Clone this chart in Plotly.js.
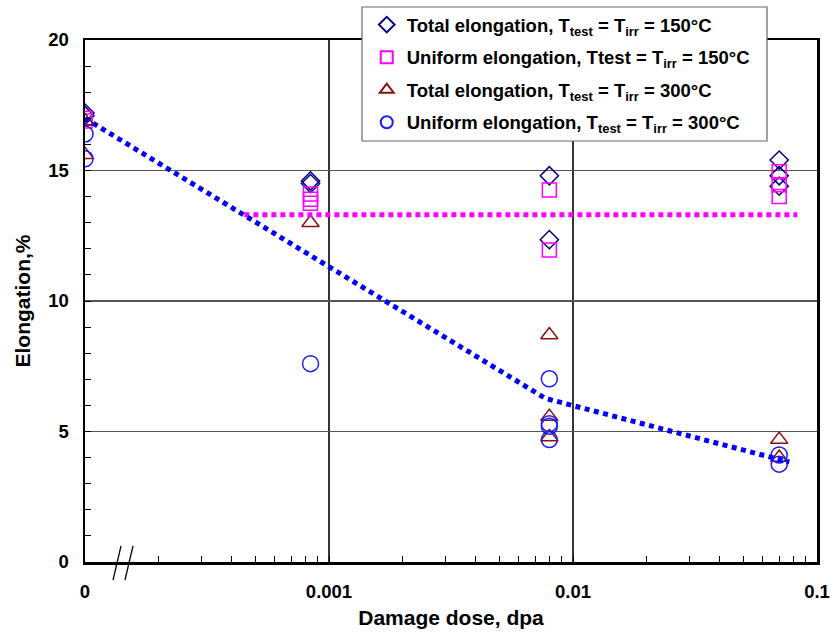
<!DOCTYPE html>
<html>
<head>
<meta charset="utf-8">
<script src="https://cdn.plot.ly/plotly-3.0.1.min.js"></script>
<style>html,body{margin:0;padding:0;background:#fff;}</style>
</head>
<body>
<div id="chart" style="width:834px;height:634px;"></div>
<script>
// Position used for the "0" dose (axis break) on the log scale
const ZERO_POS = 1e-4;

// Tick labels
const xTickVals = [ZERO_POS, 0.001, 0.01, 0.1];
const xTickText = ['0', '0.001', '0.01', '0.1'];
const yTickVals = [0, 5, 10, 15, 20];

// Total elongation, Ttest = Tirr = 150°C
const total150X = [ZERO_POS, ZERO_POS, 0.00084, 0.00084, 0.008, 0.008, 0.07, 0.07, 0.07];
const total150Y = [17.2, 17.1, 14.6, 14.5, 14.8, 12.35, 15.4, 14.8, 14.4];

// Uniform elongation, Ttest = Tirr = 150°C
const unif150X = [ZERO_POS, ZERO_POS, 0.00084, 0.00084, 0.00084, 0.008, 0.008, 0.07, 0.07, 0.07];
const unif150Y = [17.0, 16.9, 14.1, 13.9, 13.75, 14.25, 11.95, 14.95, 14.45, 14.0];

// Total elongation, Ttest = Tirr = 300°C
const total300X = [ZERO_POS, ZERO_POS, 0.00084, 0.008, 0.008, 0.008, 0.07, 0.07];
const total300Y = [16.9, 15.6, 13.0, 8.7, 5.57, 4.79, 4.69, 4.0];

// Uniform elongation, Ttest = Tirr = 300°C
const unif300X = [ZERO_POS, ZERO_POS, 0.00084, 0.008, 0.008, 0.008, 0.008, 0.07, 0.07];
const unif300Y = [16.4, 15.45, 7.6, 7.02, 5.3, 5.2, 4.69, 4.1, 3.75];

// Trend lines
const trend150X = [0.00045, 0.083];
const trend150Y = [13.3, 13.3];
const trend300X = [ZERO_POS, 0.0077, 0.077];
const trend300Y = [17.0, 6.27, 3.83];

const FONT = 'Liberation Sans, Arial, Helvetica, sans-serif';

function markerTrace(x, y, name, symbol, color, size, group) {
  return {
    type: 'scatter', mode: 'markers', x: x, y: y, name: name,
    legendgroup: group,
    marker: {symbol: symbol, size: size, color: color, line: {color: color, width: 1.5}},
    hoverinfo: 'x+y'
  };
}

const traces = [
  markerTrace(total150X, total150Y, '<b>Total elongation, T<sub>test</sub> = T<sub>irr</sub> = 150°C</b>', 'diamond-open', '#000080', 14, 'a'),
  markerTrace(unif150X, unif150Y, '<b>Uniform elongation, Ttest = T<sub>irr</sub> = 150°C</b>', 'square-open', '#ff00ff', 14, 'b'),
  markerTrace(total300X, total300Y, '<b>Total elongation, T<sub>test</sub> = T<sub>irr</sub> = 300°C</b>', 'triangle-up-open', '#8b1010', 15, 'c'),
  markerTrace(unif300X, unif300Y, '<b>Uniform elongation, T<sub>test</sub> = T<sub>irr</sub> = 300°C</b>', 'circle-open', '#1a1aff', 16, 'd'),
  {type: 'scatter', mode: 'lines', x: trend150X, y: trend150Y, showlegend: false,
   line: {color: '#ff00ff', width: 5, dash: '5px,4px'}, hoverinfo: 'skip'},
  {type: 'scatter', mode: 'lines', x: trend300X, y: trend300Y, showlegend: false,
   line: {color: '#0000ff', width: 5, dash: '5px,4.5px'}, hoverinfo: 'skip'}
];

const layout = {
  width: 834, height: 634,
  margin: {l: 85, r: 17, t: 40, b: 72, autoexpand: false},
  paper_bgcolor: '#fff', plot_bgcolor: '#fff',
  font: {family: FONT, color: '#000', size: 18},
  showlegend: true,
  legend: {
    x: 0.3849, y: 1.065, xanchor: 'left', yanchor: 'top',
    bgcolor: 'rgba(0,0,0,0)', borderwidth: 0,
    font: {family: FONT, size: 18.5, color: '#000'},
    traceorder: 'grouped', tracegroupgap: 5.5, itemsizing: 'constant'
  },
  xaxis: {
    type: 'log', range: [Math.log10(ZERO_POS), -1],
    tickvals: xTickVals, ticktext: xTickText,
    ticks: 'inside', ticklen: 6, tickwidth: 1, tickcolor: '#000',
    tickfont: {family: FONT, size: 18.5, color: '#000', weight: 'bold'},
    ticklabelstandoff: 11,
    showgrid: true, gridcolor: '#333', gridwidth: 1.5,
    showline: true, linecolor: '#000', linewidth: 2.5, mirror: true,
    zeroline: false,
    minor: {ticks: 'inside', ticklen: 6, tickwidth: 1, tickcolor: '#000', dtick: 'D1', showgrid: false},
    title: {text: '<b>Damage dose, dpa</b>', font: {family: FONT, size: 21, color: '#000'}, standoff: 10}
  },
  yaxis: {
    range: [0, 20], tickvals: yTickVals,
    ticks: 'inside', ticklen: 6, tickwidth: 1, tickcolor: '#000',
    tickfont: {family: FONT, size: 18.5, color: '#000', weight: 'bold'},
    ticklabelstandoff: 10,
    showgrid: true, gridcolor: '#555', gridwidth: 1.5,
    showline: true, linecolor: '#000', linewidth: 2.5, mirror: true,
    zeroline: false,
    minor: {ticks: 'inside', ticklen: 6, tickwidth: 1, tickcolor: '#000', dtick: 1, showgrid: false},
    title: {text: '<b>Elongation,%</b>', font: {family: FONT, size: 21, color: '#000'}, standoff: 12}
  },
  shapes: [
    {type: 'rect', xref: 'paper', yref: 'paper', x0: 0.3784, x1: 0.9317, y0: 0.8065, y1: 1.0632,
     fillcolor: '#fff', line: {color: '#666', width: 1.2}, layer: 'above'},
    {type: 'line', xref: 'paper', yref: 'paper', x0: 0.0383, y0: -0.0345, x1: 0.0492, y1: 0.0307,
     line: {color: '#000', width: 1.3}, layer: 'above'},
    {type: 'line', xref: 'paper', yref: 'paper', x0: 0.0546, y0: -0.0345, x1: 0.0656, y1: 0.0307,
     line: {color: '#000', width: 1.3}, layer: 'above'}
  ]
};

Plotly.newPlot('chart', traces, layout, {displayModeBar: false, staticPlot: true});
</script>
</body>
</html>
